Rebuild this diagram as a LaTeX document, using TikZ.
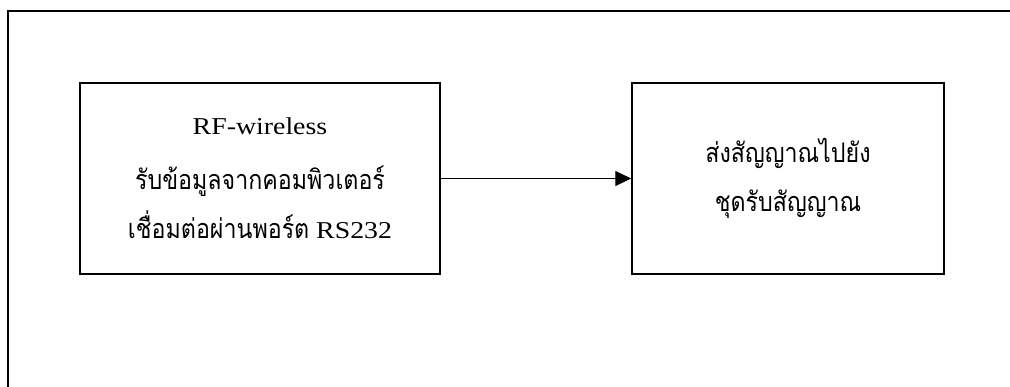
\documentclass[tikz,border=0pt]{standalone}
\usepackage{fontspec}
\setmainfont{Liberation Serif}[FakeStretch=1.15]
\newfontfamily\thaifont[Script=Thai,FakeStretch=0.86]{Loma}
\newcommand\thaitext[1]{{\thaifont\fontsize{27}{49}\selectfont #1}}
\usetikzlibrary{arrows.meta}

\begin{document}
\begin{tikzpicture}[x=1pt,y=-1pt,
  blockbox/.style={draw,line width=1.5pt,rectangle,inner sep=0pt,align=center,
    minimum height=191pt,font=\fontsize{24.2}{49}\selectfont},
  flowarrow/.style={line width=1pt,-{Triangle[length=16pt,width=15pt]}}]
  \useasboundingbox (0,0) rectangle (1010,387);
  % open outer frame
  \draw[line width=1.6pt] (8,387) -- (8,11) -- (1010,11);

  \node[blockbox,minimum width=360pt] (tx) at (260,178.5)
    {RF-wireless\\[6pt]
     \thaitext{รับข้อมูลจากคอมพิวเตอร์}\\
     \thaitext{เชื่อมต่อผ่านพอร์ต} RS232};
  \node[blockbox,minimum width=312pt] (rx) at (788,178.5)
    {\thaitext{ส่งสัญญาณไปยัง}\\
     \thaitext{ชุดรับสัญญาณ}};

  \draw[flowarrow] (tx.east) -- (rx.west);
\end{tikzpicture}
\end{document}
